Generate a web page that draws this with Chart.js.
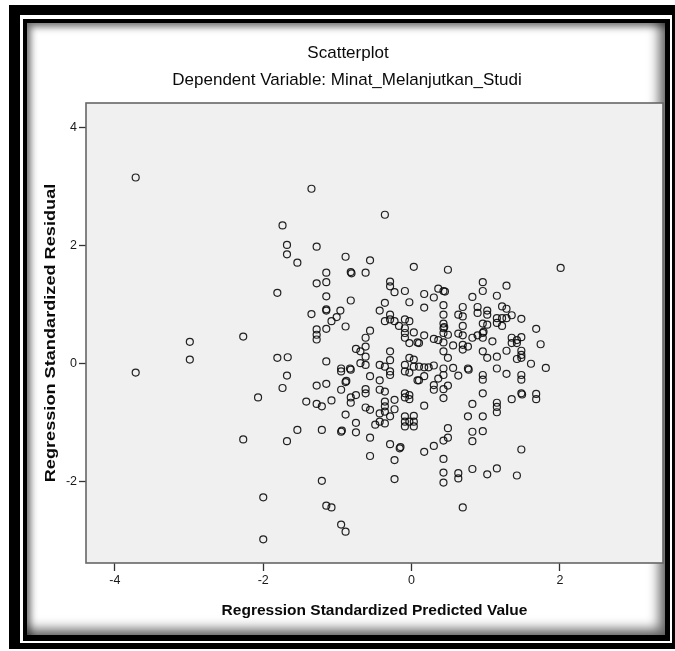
<!DOCTYPE html>
<html><head><meta charset="utf-8">
<script src="https://cdn.jsdelivr.net/npm/chart.js@4.4.1/dist/chart.umd.min.js"></script>
<style>
html,body{margin:0;padding:0;background:#fff;overflow:hidden;}
#wrap{position:relative;width:675px;height:651px;overflow:hidden;background:#fff;}
#outer{position:absolute;left:9px;top:5px;width:669px;height:644px;box-sizing:border-box;border-style:solid;border-color:#000;border-width:10px 6px 6px 11px;}
#inner{position:absolute;left:23px;top:19px;width:647px;height:622px;box-sizing:border-box;border-style:solid;border-color:#000;border-width:4px 5px 6px 4px;box-shadow:inset 4px 4px 7px rgba(0,0,0,0.5), inset -6px -6px 12px rgba(0,0,0,0.6);}
#c{position:absolute;left:0;top:0;}
</style></head>
<body>
<div id="wrap">
<div id="outer"></div>
<div id="inner"></div>
<canvas id="c" width="675" height="651"></canvas>
</div>
<script>
// Regression standardized predicted values (x) and residuals (y)
const predicted = [
 -3.72,-3.72,-2.99,-2.99,-2.27,-2.27,-2.07,-2.00,-2.00,
 -1.35,-0.36,-1.74,-1.68,-1.68,-1.28,-1.54,-0.89,-0.56,0.03,
 -0.82,-0.81,-0.62,-1.15,-1.28,-1.15,-0.29,-0.29,-0.23,-0.09,
 -1.81,-1.15,-0.82,-0.03,-0.36,-0.43,-1.15,-1.15,-0.96,-1.35,
 -1.01,-1.08,-0.29,-0.29,-0.36,-0.23,-0.17,-0.09,-0.03,-0.89,
 -1.15,-1.28,-1.28,-1.28,-0.56,-0.09,-0.09,0.03,-0.09,-0.03,
 0.08,-0.62,-0.62,-0.75,-0.69,-1.81,-1.67,-1.15,-0.29,-0.29,
 -0.62,-0.69,-0.62,-0.43,-0.36,-0.09,-0.03,0.03,-0.95,-0.83,
 0.49,2.01,0.96,0.96,1.28,0.36,0.43,0.45,0.17,0.30,
 0.82,1.15,0.43,0.17,0.69,0.89,1.22,1.28,1.02,0.89,
 1.02,0.43,0.63,0.69,1.35,1.15,1.22,1.28,1.48,0.43,
 0.43,0.44,0.96,1.02,1.15,1.22,0.69,1.68,0.17,0.63,
 0.69,0.49,0.43,0.96,0.97,0.89,0.82,0.96,0.30,0.36,
 0.43,0.10,1.09,1.35,1.42,1.48,1.42,1.35,1.74,0.56,
 0.69,0.76,0.69,0.43,0.96,1.28,1.48,1.48,1.48,1.42,
 0.49,1.02,1.15,1.61,0.30,0.17,0.23,0.43,0.56,0.76,
 1.15,1.81,
 -1.68,-1.74,-0.95,-0.82,-1.28,-1.15,-0.89,-0.88,-0.95,-0.56,
 -0.43,-0.43,-0.36,-0.62,-0.62,-0.75,-0.82,-0.82,-1.42,-1.28,
 -1.21,-1.08,-0.36,-0.36,-0.36,-0.23,-0.23,-0.29,-0.29,-0.09,
 -0.03,0.03,0.08,-0.09,-0.09,-0.03,-0.03,-0.62,-0.56,-0.89,
 -0.75,-0.75,-0.95,-0.94,-1.21,-1.54,-1.68,-0.43,-0.43,-0.36,
 -0.29,-0.49,-0.09,-0.09,-0.09,-0.03,0.03,0.03,0.03,-0.56,
 -0.29,-0.16,-0.15,-0.56,-0.23,-0.23,-1.21,-1.15,-1.08,-0.95,
 -0.89,
 0.10,0.43,0.63,0.77,0.96,0.96,1.28,1.48,1.48,0.10,
 0.17,0.30,0.30,0.36,0.49,0.43,0.43,0.17,0.96,0.82,
 1.15,1.15,1.15,1.35,1.48,1.49,1.68,1.68,0.76,0.96,
 0.49,0.49,0.43,0.82,0.82,0.96,0.30,0.17,0.43,1.48,
 0.43,0.43,0.63,0.63,0.82,1.02,1.15,1.42,0.69
];
const residual = [
 3.15,-0.15,0.37,0.07,0.46,-1.28,-0.57,-2.26,-2.97,
 2.96,2.52,2.34,2.01,1.85,1.98,1.71,1.81,1.75,1.64,
 1.55,1.53,1.54,1.54,1.36,1.38,1.39,1.31,1.21,1.23,
 1.20,1.14,1.07,1.04,1.03,0.90,0.92,0.90,0.90,0.84,
 0.79,0.72,0.83,0.75,0.72,0.72,0.64,0.75,0.72,0.63,
 0.59,0.58,0.49,0.41,0.56,0.60,0.52,0.53,0.44,0.35,
 0.36,0.44,0.29,0.25,0.21,0.10,0.11,0.04,0.21,0.06,
 0.12,0.01,-0.02,-0.02,-0.05,-0.02,0.10,0.07,-0.08,-0.08,
 1.59,1.62,1.38,1.23,1.32,1.27,1.23,1.22,1.18,1.12,
 1.13,1.15,0.99,0.95,0.96,0.96,0.97,0.93,0.90,0.86,
 0.83,0.83,0.83,0.80,0.82,0.77,0.77,0.77,0.76,0.68,
 0.60,0.62,0.68,0.66,0.69,0.64,0.64,0.59,0.48,0.51,
 0.48,0.49,0.52,0.52,0.54,0.48,0.44,0.44,0.42,0.40,
 0.36,0.35,0.38,0.44,0.40,0.45,0.35,0.35,0.33,0.31,
 0.32,0.29,0.24,0.21,0.21,0.22,0.22,0.15,0.10,0.08,
 0.10,0.10,0.12,0.00,-0.03,-0.06,-0.06,-0.08,-0.07,-0.08,
 -0.08,-0.07,
 -0.20,-0.41,-0.13,-0.10,-0.37,-0.34,-0.31,-0.29,-0.44,-0.21,
 -0.28,-0.44,-0.47,-0.43,-0.50,-0.53,-0.57,-0.66,-0.64,-0.68,
 -0.72,-0.62,-0.64,-0.72,-0.81,-0.61,-0.77,-0.13,-0.19,-0.13,
 -0.15,-0.05,-0.28,-0.50,-0.57,-0.53,-0.60,-0.74,-0.78,-0.86,
 -1.00,-1.16,-1.15,-1.13,-1.12,-1.12,-1.31,-0.84,-0.98,-1.01,
 -0.89,-1.03,-0.89,-0.98,-1.06,-0.98,-0.88,-0.98,-1.06,-1.25,
 -1.36,-1.43,-1.41,-1.56,-1.63,-1.95,-1.98,-2.40,-2.43,-2.72,
 -2.84,
 -0.05,-0.19,-0.20,-0.10,-0.19,-0.27,-0.17,-0.19,-0.27,-0.28,
 -0.21,-0.36,-0.44,-0.25,-0.37,-0.43,-0.58,-0.71,-0.50,-0.68,
 -0.66,-0.73,-0.82,-0.60,-0.50,-0.52,-0.51,-0.60,-0.89,-0.89,
 -1.09,-1.25,-1.30,-1.15,-1.31,-1.14,-1.39,-1.49,-1.61,-1.45,
 -1.84,-2.01,-1.85,-1.94,-1.78,-1.87,-1.77,-1.89,-2.43
];
const xTicks = [-4, -2, 0, 2];
const yTicks = [-2, 0, 2, 4];
const xRange = [-4.39, 3.39];
const yRange = [-3.37, 4.41];
const chartTitle = 'Scatterplot';
const chartSubtitle = 'Dependent Variable: Minat_Melanjutkan_Studi';
const xTitle = 'Regression Standardized Predicted Value';
const yTitle = 'Regression Standardized Residual';

const points = predicted.map((x, i) => ({x: x, y: residual[i]}));
const FONT = '"Liberation Sans", Arial, sans-serif';

const spssPlugin = {
  id: 'spss',
  beforeDraw(chart) {
    const {ctx, chartArea: a} = chart;
    ctx.save();
    ctx.fillStyle = '#f0f0f0';
    ctx.fillRect(a.left, a.top, a.right - a.left, a.bottom - a.top);
    ctx.restore();
  },
  beforeDatasetsDraw(chart) {
    const {ctx, chartArea: a} = chart;
    ctx.save();
    ctx.strokeStyle = '#666';
    ctx.lineWidth = 1.6;
    ctx.strokeRect(a.left, a.top, a.right - a.left, a.bottom - a.top);
    ctx.restore();
  },
  afterDraw(chart) {
    const {ctx, chartArea: a} = chart;
    ctx.save();
    ctx.fillStyle = '#0a0a0a';
    ctx.textAlign = 'center';
    ctx.textBaseline = 'middle';
    ctx.font = '17px ' + FONT;
    ctx.fillText(chartTitle, 348, 53);
    ctx.fillText(chartSubtitle, 347, 80);
    ctx.font = 'bold 15.5px ' + FONT;
    ctx.fillText(xTitle, (a.left + a.right) / 2, 611);
    ctx.translate(51, (a.top + a.bottom) / 2);
    ctx.rotate(-Math.PI / 2);
    ctx.scale(1.21, 1);
    ctx.font = 'bold 15px ' + FONT;
    ctx.fillText(yTitle, 0, 0);
    ctx.restore();
  }
};

new Chart(document.getElementById('c'), {
  type: 'scatter',
  data: {
    datasets: [{
      data: points,
      pointStyle: 'circle',
      pointRadius: 3.5,
      pointHoverRadius: 3.5,
      pointBorderWidth: 1.2,
      borderColor: 'rgba(10,10,10,0.9)',
      backgroundColor: 'rgba(0,0,0,0)',
      showLine: false
    }]
  },
  options: {
    responsive: false,
    animation: false,
    devicePixelRatio: 1,
    layout: {padding: {top: 103, right: 12, bottom: 0, left: 0}},
    plugins: {legend: {display: false}, tooltip: {enabled: false}},
    scales: {
      x: {
        type: 'linear',
        min: xRange[0], max: xRange[1],
        afterFit(s) { s.height = 88; },
        afterBuildTicks(s) { s.ticks = xTicks.map(v => ({value: v})); },
        border: {display: false},
        grid: {display: true, drawOnChartArea: false, drawTicks: true, tickLength: 8, tickColor: '#333', tickWidth: 1.3},
        ticks: {color: '#1a1a1a', padding: 2, font: {family: FONT, size: 12.5}, maxRotation: 0, callback: v => String(v)}
      },
      y: {
        type: 'linear',
        min: yRange[0], max: yRange[1],
        afterFit(s) { s.width = 86; },
        afterBuildTicks(s) { s.ticks = yTicks.map(v => ({value: v})); },
        border: {display: false},
        grid: {display: true, drawOnChartArea: false, drawTicks: true, tickLength: 7, tickColor: '#333', tickWidth: 1.3},
        ticks: {color: '#1a1a1a', padding: 2, font: {family: FONT, size: 12.5}, callback: v => String(v)}
      }
    }
  },
  plugins: [spssPlugin]
});
</script>
</body></html>
